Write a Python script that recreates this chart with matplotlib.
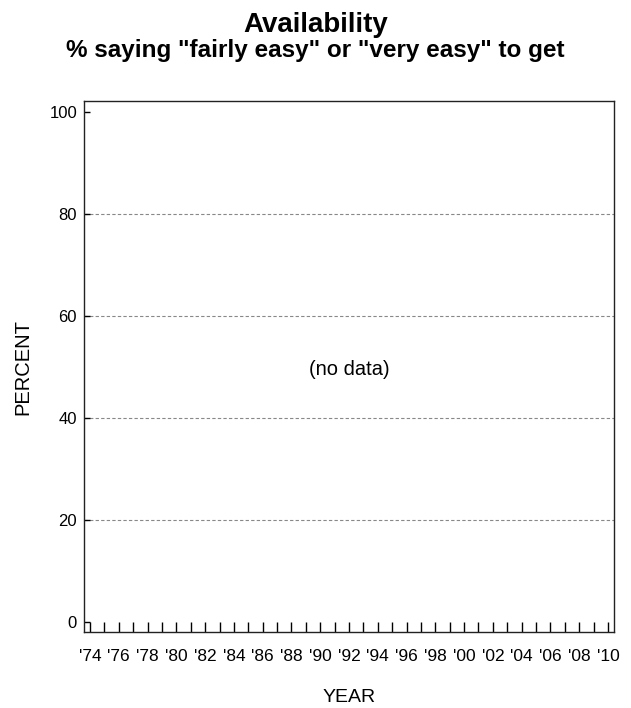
import matplotlib
matplotlib.use("Agg")
import matplotlib.pyplot as plt

plt.rcParams['font.family'] = ['Liberation Sans', 'DejaVu Sans']

# chart content
title = "Availability"
subtitle = '% saying "fairly easy" or "very easy" to get'
years = list(range(1974, 2011))
label_years = list(range(1974, 2011, 2))
year_labels = ["'" + str(y)[2:] for y in label_years]
y_ticks = [0, 20, 40, 60, 80, 100]
grid_levels = [20, 40, 60, 80]
note = "(no data)"

fig = plt.figure(figsize=(6.31, 7.08), dpi=100)
ax = fig.add_axes([0.1331, 0.1073, 0.840, 0.750])

ax.set_xlim(1973.58, 2010.42)
ax.set_ylim(-2, 102.2)

for g in grid_levels:
    ax.axhline(g, color='#888888', lw=0.8, ls=(0, (3, 2)), zorder=1)

ax.text((years[0] + years[-1]) / 2, 49.5, note, ha='center', va='center', fontsize=14.5)

ax.set_xticks(years)
ax.set_xticklabels([year_labels[label_years.index(y)] if y in label_years else '' for y in years],
                   fontsize=12.5)
ax.set_yticks(y_ticks)
ax.set_yticklabels([str(v) for v in y_ticks], fontsize=12)
ax.tick_params(axis='x', direction='in', length=7, width=1, pad=12, colors='black')
ax.tick_params(axis='y', direction='in', length=4, width=1, pad=5)

for s in ax.spines.values():
    s.set_linewidth(1.0)
    s.set_color('#222222')

ax.set_ylabel("PERCENT", fontsize=14.5, labelpad=12)
ax.set_xlabel("YEAR", fontsize=14, labelpad=18)

fig.text(0.5, 0.983, title, ha='center', va='top', fontsize=20, fontweight='bold')
fig.text(0.5, 0.945, subtitle, ha='center', va='top', fontsize=17.5, fontweight='bold')

fig.savefig("out.png", dpi=100)
